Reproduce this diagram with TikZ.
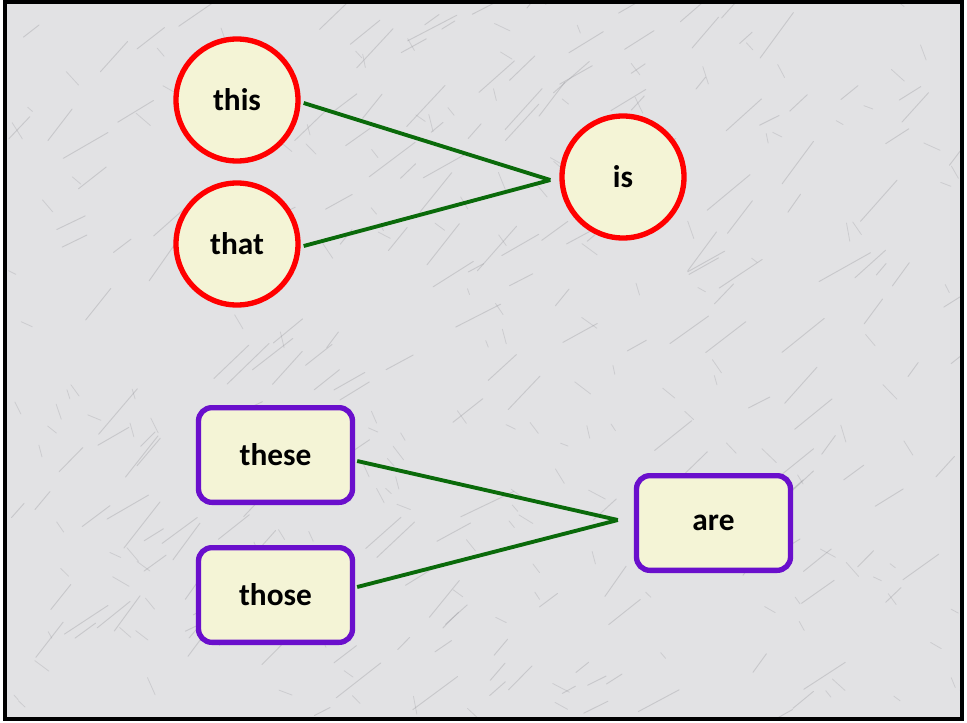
\documentclass[tikz,border=0pt]{standalone}
\usepackage{fontspec}
\setmainfont{Carlito}
\usetikzlibrary{calc}
\definecolor{bgmarble}{HTML}{E2E2E4}
\definecolor{vein}{HTML}{8C8C92}
\definecolor{nodefill}{HTML}{F4F4D6}
\definecolor{circred}{HTML}{FF0000}
\definecolor{boxpurple}{HTML}{6A0FCC}
\definecolor{linkgreen}{HTML}{0A6A0A}
\tikzset{
  wordcircle/.style={circle, draw=circred, line width=4pt, fill=nodefill, minimum size=91.5pt, inner sep=0pt, font=\fontsize{23.5}{26}\selectfont\bfseries},
  wordbox/.style={rectangle, rounded corners=10pt, draw=boxpurple, line width=4pt, fill=nodefill, minimum width=115.5pt, minimum height=71pt, inner sep=0pt, font=\fontsize{23.5}{26}\selectfont\bfseries},
  link/.style={draw=linkgreen, line width=2.9pt},
}
\begin{document}
\begin{tikzpicture}[x=0.75pt, y=-0.75pt]
\useasboundingbox (0,0) rectangle (967,722);
\fill[white] (0,0) rectangle (967,722);
\fill[bgmarble] (5,2) rectangle (962,719);
\pgfmathsetseed{7}
\begin{scope}
\clip (5,2) rectangle (962,719);
\foreach \i in {1,...,220}{
  \pgfmathsetmacro{\vx}{5+957*rnd}
  \pgfmathsetmacro{\vy}{2+717*rnd}
  \pgfmathsetmacro{\vl}{15+45*rnd}
  \pgfmathsetmacro{\va}{25+30*rnd}
  \draw[vein, opacity=0.3, line width=0.7pt, line cap=round]
    (\vx,\vy) -- ++({\vl*cos(\va)},{-\vl*sin(\va)});
}
\foreach \i in {1,...,180}{
  \pgfmathsetmacro{\vx}{5+957*rnd}
  \pgfmathsetmacro{\vy}{2+717*rnd}
  \pgfmathsetmacro{\vl}{6+14*rnd}
  \pgfmathsetmacro{\va}{100+60*rnd}
  \draw[vein, opacity=0.25, line width=0.6pt, line cap=round]
    (\vx,\vy) -- ++({\vl*cos(\va)},{-\vl*sin(\va)});
}
\end{scope}
\draw[black, line width=2.4pt] (5,2) rectangle (962,719);

\node[wordcircle] (this) at (237,100) {this};
\node[wordcircle] (that) at (237,244) {that};
\node[wordcircle] (is) at (623,177) {is};

\node[wordbox] (these) at (275.5,455) {these};
\node[wordbox] (those) at (275.5,595) {those};
\node[wordbox] (are) at (713.5,523) {are};

\coordinate (j1) at ($(is.west)+(-9,3)$);
\coordinate (j2) at ($(are.west)+(-16,-3)$);

\draw[link] ($(this.east)+(3,3)$) -- (j1);
\draw[link] ($(that.east)+(3,2)$) -- (j1);
\draw[link] ($(these.east)+(2,6)$) -- (j2);
\draw[link] ($(those.east)+(2,-8)$) -- (j2);
\end{tikzpicture}
\end{document}
